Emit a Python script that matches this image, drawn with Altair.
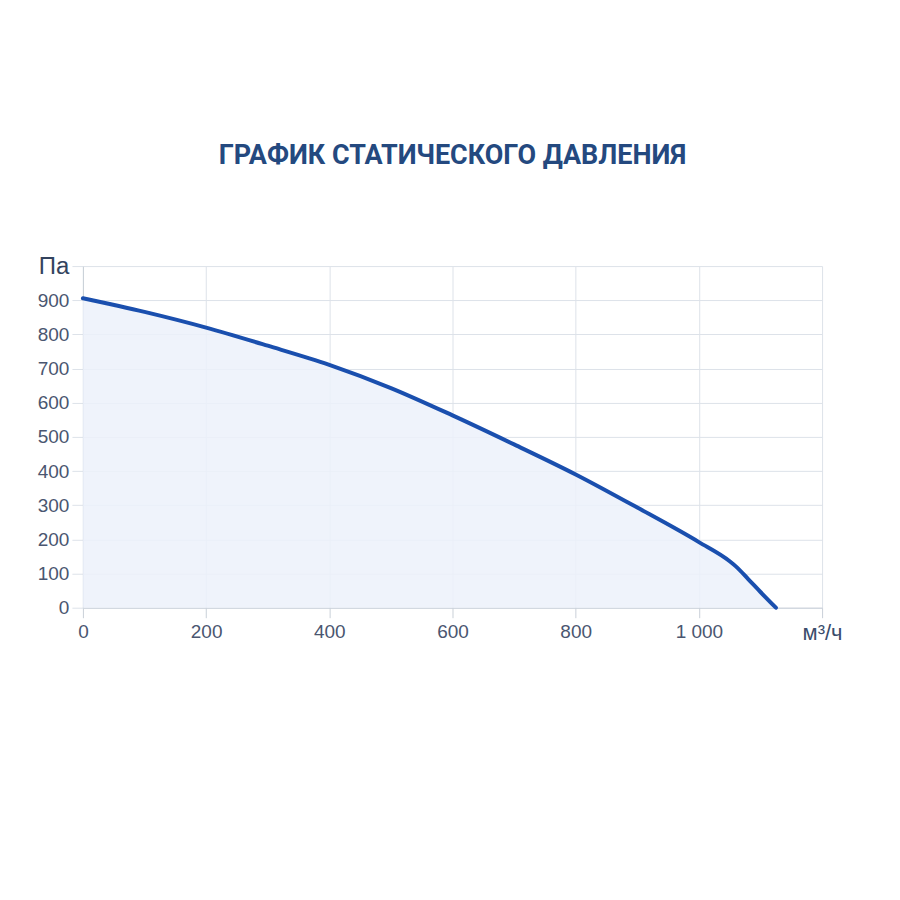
import altair as alt
import pandas as pd

flow = [0, 100, 200, 300, 400, 500, 600, 700, 800, 900, 1000, 1050, 1060, 1080, 1100, 1125]
pressure = [906, 866, 820, 767, 711, 643, 563, 478, 390, 293, 192, 136, 121, 84, 46, 0]

x_ticks = [0, 200, 400, 600, 800, 1000, 1200]
y_ticks = [0, 100, 200, 300, 400, 500, 600, 700, 800, 900, 1000]

df = pd.DataFrame({"flow": flow, "pressure": pressure})

label_color = "#4a5670"
grid_color = "#dde2e9"

x_enc = alt.X(
    "flow:Q",
    scale=alt.Scale(domain=[0, 1200], nice=False, zero=True),
    axis=alt.Axis(
        values=x_ticks,
        title=None,
        grid=True,
        gridColor=grid_color,
        domainColor="#c9d0d8",
        tickColor="#c9d0d8",
        tickSize=10,
        labelPadding=5,
        labelFlush=False,
        labelOverlap=False,
        labelFont="Liberation Sans",
        labelFontSize=alt.expr("datum.value == 1200 ? 22 : 19"),
        labelColor=alt.expr("datum.value == 1200 ? '#3b4d6c' : '#4a5670'"),
        labelExpr="datum.value == 1200 ? 'м³/ч' : replace(format(datum.value, ','), ',', ' ')",
        labelBaseline="top",
    ),
)
y_enc = alt.Y(
    "pressure:Q",
    scale=alt.Scale(domain=[0, 1000], nice=False),
    axis=alt.Axis(
        values=y_ticks,
        title=None,
        grid=True,
        gridColor=grid_color,
        domainColor="#c9d0d8",
        tickColor="#dde2e9",
        tickSize=11,
        labelPadding=3,
        labelFlush=False,
        labelOverlap=False,
        labelFont="Liberation Sans",
        labelFontSize=alt.expr("datum.value == 1000 ? 24 : 19"),
        labelColor=alt.expr("datum.value == 1000 ? '#33435e' : '#4a5670'"),
        labelExpr="datum.value == 1000 ? 'Па' : datum.label",
    ),
)

base = alt.Chart(df).encode(x=x_enc, y=y_enc)

area = base.mark_area(color="#ecf1fa", opacity=0.85, interpolate="monotone")
line = base.mark_line(color="#1a4fae", strokeWidth=4, interpolate="monotone", strokeCap="round")

chart = (
    alt.layer(area, line)
    .properties(
        width=740,
        height=342,
        autosize=alt.AutoSizeParams(type="none"),
        padding={"left": 75, "top": 258, "right": 70, "bottom": 80},
        background="#ffffff",
        title=alt.TitleParams(
            "ГРАФИК СТАТИЧЕСКОГО ДАВЛЕНИЯ",
            font="Roboto",
            fontSize=27,
            fontWeight="bold",
            color="#24497f",
            anchor="middle",
            offset=84,
        ),
    )
    .configure_view(stroke=None)
)

chart.save("out.html", embed_options={"renderer": "svg", "actions": False})
